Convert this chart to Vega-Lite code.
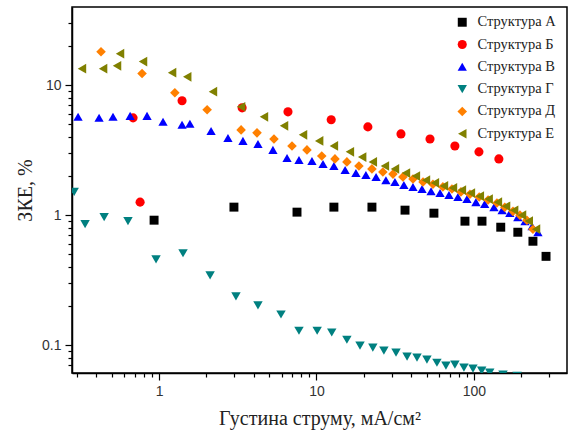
{
  "$schema": "https://vega.github.io/schema/vega-lite/v6.json",
  "width": 495,
  "height": 366,
  "autosize": "none",
  "padding": {"left": 72, "top": 7, "right": 5, "bottom": 57},
  "background": "white",
  "config": {
    "view": {"stroke": "#000", "strokeWidth": 1.5},
    "axis": {"domainColor": "#000", "domainWidth": 1.5, "tickColor": "#000", "tickWidth": 1.2, "labelFont": "Liberation Sans", "labelFontSize": 14, "labelColor": "#333", "titleFont": "Liberation Serif", "titleFontSize": 20, "titleFontWeight": "normal", "titleColor": "#222", "grid": false, "labelOverlap": false, "labelFlush": false}
  },
  "datasets": {
    "pts": [
      {"s": "Структура А", "x": 0.93, "y": 0.915},
      {"s": "Структура А", "x": 2.99, "y": 1.153},
      {"s": "Структура А", "x": 7.52, "y": 1.055},
      {"s": "Структура А", "x": 12.9, "y": 1.153},
      {"s": "Структура А", "x": 22.5, "y": 1.153},
      {"s": "Структура А", "x": 36.5, "y": 1.093},
      {"s": "Структура А", "x": 55.7, "y": 1.036},
      {"s": "Структура А", "x": 87.7, "y": 0.899},
      {"s": "Структура А", "x": 112.5, "y": 0.899},
      {"s": "Структура А", "x": 148, "y": 0.808},
      {"s": "Структура А", "x": 190, "y": 0.739},
      {"s": "Структура А", "x": 237, "y": 0.63},
      {"s": "Структура А", "x": 287, "y": 0.482},
      {"s": "Структура Б", "x": 0.758, "y": 1.26},
      {"s": "Структура Б", "x": 0.684, "y": 5.61},
      {"s": "Структура Б", "x": 1.40, "y": 7.59},
      {"s": "Структура Б", "x": 3.37, "y": 6.70},
      {"s": "Структура Б", "x": 6.59, "y": 6.24},
      {"s": "Структура Б", "x": 12.4, "y": 5.42},
      {"s": "Структура Б", "x": 21.2, "y": 4.78},
      {"s": "Структура Б", "x": 34.4, "y": 4.22},
      {"s": "Структура Б", "x": 52.6, "y": 3.86},
      {"s": "Структура Б", "x": 75.7, "y": 3.41},
      {"s": "Структура Б", "x": 107.6, "y": 3.07},
      {"s": "Структура Б", "x": 144, "y": 2.71},
      {"s": "Структура В", "x": 0.306, "y": 5.71},
      {"s": "Структура В", "x": 0.416, "y": 5.61},
      {"s": "Структура В", "x": 0.510, "y": 5.71},
      {"s": "Структура В", "x": 0.655, "y": 5.81},
      {"s": "Структура В", "x": 0.839, "y": 5.81},
      {"s": "Структура В", "x": 1.06, "y": 5.23},
      {"s": "Структура В", "x": 1.40, "y": 4.96},
      {"s": "Структура В", "x": 1.57, "y": 5.05},
      {"s": "Структура В", "x": 2.14, "y": 4.45},
      {"s": "Структура В", "x": 2.74, "y": 3.93},
      {"s": "Структура В", "x": 3.41, "y": 3.73},
      {"s": "Структура В", "x": 4.25, "y": 3.53},
      {"s": "Структура В", "x": 5.29, "y": 3.18},
      {"s": "Структура В", "x": 6.50, "y": 2.75},
      {"s": "Структура В", "x": 7.74, "y": 2.66},
      {"s": "Структура В", "x": 9.36, "y": 2.61},
      {"s": "Структура В", "x": 11.0, "y": 2.48},
      {"s": "Структура В", "x": 12.9, "y": 2.39},
      {"s": "Структура В", "x": 15.2, "y": 2.23},
      {"s": "Структура В", "x": 17.8, "y": 2.11},
      {"s": "Структура В", "x": 20.6, "y": 2.04},
      {"s": "Структура В", "x": 23.9, "y": 1.97},
      {"s": "Структура В", "x": 27.6, "y": 1.86},
      {"s": "Структура В", "x": 31.5, "y": 1.80},
      {"s": "Структура В", "x": 35.9, "y": 1.71},
      {"s": "Структура В", "x": 41.0, "y": 1.65},
      {"s": "Структура В", "x": 46.8, "y": 1.59},
      {"s": "Структура В", "x": 53.4, "y": 1.53},
      {"s": "Структура В", "x": 60.9, "y": 1.48},
      {"s": "Структура В", "x": 69.4, "y": 1.43},
      {"s": "Структура В", "x": 79.1, "y": 1.38},
      {"s": "Структура В", "x": 90.3, "y": 1.33},
      {"s": "Структура В", "x": 103, "y": 1.26},
      {"s": "Структура В", "x": 117, "y": 1.22},
      {"s": "Структура В", "x": 134, "y": 1.15},
      {"s": "Структура В", "x": 151, "y": 1.09},
      {"s": "Структура В", "x": 169, "y": 1.04},
      {"s": "Структура В", "x": 190, "y": 0.966},
      {"s": "Структура В", "x": 211, "y": 0.899},
      {"s": "Структура В", "x": 234, "y": 0.823},
      {"s": "Структура В", "x": 255, "y": 0.739},
      {"s": "Структура Г", "x": 0.289, "y": 1.51},
      {"s": "Структура Г", "x": 0.339, "y": 0.852},
      {"s": "Структура Г", "x": 0.448, "y": 0.965},
      {"s": "Структура Г", "x": 0.635, "y": 0.899},
      {"s": "Структура Г", "x": 0.957, "y": 0.457},
      {"s": "Структура Г", "x": 1.42, "y": 0.509},
      {"s": "Структура Г", "x": 2.11, "y": 0.344},
      {"s": "Структура Г", "x": 3.08, "y": 0.237},
      {"s": "Структура Г", "x": 4.25, "y": 0.202},
      {"s": "Структура Г", "x": 5.95, "y": 0.172},
      {"s": "Структура Г", "x": 7.74, "y": 0.129},
      {"s": "Структура Г", "x": 10.1, "y": 0.129},
      {"s": "Структура Г", "x": 12.5, "y": 0.125},
      {"s": "Структура Г", "x": 15.6, "y": 0.110},
      {"s": "Структура Г", "x": 18.9, "y": 0.099},
      {"s": "Структура Г", "x": 22.8, "y": 0.0957},
      {"s": "Структура Г", "x": 26.8, "y": 0.0907},
      {"s": "Структура Г", "x": 32.0, "y": 0.0875},
      {"s": "Структура Г", "x": 37.6, "y": 0.0815},
      {"s": "Структура Г", "x": 43.5, "y": 0.080},
      {"s": "Структура Г", "x": 50.3, "y": 0.0772},
      {"s": "Структура Г", "x": 58.2, "y": 0.0732},
      {"s": "Структура Г", "x": 66.4, "y": 0.0695},
      {"s": "Структура Г", "x": 75.7, "y": 0.0707},
      {"s": "Структура Г", "x": 86.4, "y": 0.067},
      {"s": "Структура Г", "x": 98.6, "y": 0.0659},
      {"s": "Структура Г", "x": 112, "y": 0.0636},
      {"s": "Структура Г", "x": 126, "y": 0.0614},
      {"s": "Структура Г", "x": 153, "y": 0.0592},
      {"s": "Структура Г", "x": 188, "y": 0.058},
      {"s": "Структура Д", "x": 0.428, "y": 18.1},
      {"s": "Структура Д", "x": 0.780, "y": 12.3},
      {"s": "Структура Д", "x": 1.26, "y": 8.75},
      {"s": "Структура Д", "x": 2.02, "y": 6.47},
      {"s": "Структура Д", "x": 3.32, "y": 4.53},
      {"s": "Структура Д", "x": 4.19, "y": 4.30},
      {"s": "Структура Д", "x": 5.37, "y": 3.86},
      {"s": "Структура Д", "x": 6.99, "y": 3.41},
      {"s": "Структура Д", "x": 8.70, "y": 3.18},
      {"s": "Структура Д", "x": 10.8, "y": 2.85},
      {"s": "Структура Д", "x": 13.1, "y": 2.71},
      {"s": "Структура Д", "x": 15.6, "y": 2.57},
      {"s": "Структура Д", "x": 18.6, "y": 2.39},
      {"s": "Структура Д", "x": 22.5, "y": 2.27},
      {"s": "Структура Д", "x": 26.4, "y": 2.15},
      {"s": "Структура Д", "x": 30.6, "y": 2.07},
      {"s": "Структура Д", "x": 35.4, "y": 1.97},
      {"s": "Структура Д", "x": 41.0, "y": 1.90},
      {"s": "Структура Д", "x": 47.5, "y": 1.80},
      {"s": "Структура Д", "x": 54.9, "y": 1.73},
      {"s": "Структура Д", "x": 63.5, "y": 1.65},
      {"s": "Структура Д", "x": 72.5, "y": 1.59},
      {"s": "Структура Д", "x": 82.7, "y": 1.51},
      {"s": "Структура Д", "x": 94.3, "y": 1.45},
      {"s": "Структура Д", "x": 108, "y": 1.38},
      {"s": "Структура Д", "x": 123, "y": 1.31},
      {"s": "Структура Д", "x": 140, "y": 1.24},
      {"s": "Структура Д", "x": 157, "y": 1.15},
      {"s": "Структура Д", "x": 177, "y": 1.07},
      {"s": "Структура Д", "x": 196, "y": 1.0},
      {"s": "Структура Д", "x": 217, "y": 0.915},
      {"s": "Структура Д", "x": 237, "y": 0.78},
      {"s": "Структура Е", "x": 0.324, "y": 13.4},
      {"s": "Структура Е", "x": 0.441, "y": 13.4},
      {"s": "Структура Е", "x": 0.541, "y": 14.1},
      {"s": "Структура Е", "x": 0.565, "y": 17.5},
      {"s": "Структура Е", "x": 0.791, "y": 15.2},
      {"s": "Структура Е", "x": 1.21, "y": 12.5},
      {"s": "Структура Е", "x": 1.51, "y": 11.6},
      {"s": "Структура Е", "x": 2.20, "y": 8.91},
      {"s": "Структура Е", "x": 3.32, "y": 6.82},
      {"s": "Структура Е", "x": 4.64, "y": 5.71},
      {"s": "Структура Е", "x": 6.22, "y": 4.87},
      {"s": "Структура Е", "x": 8.21, "y": 4.15},
      {"s": "Структура Е", "x": 10.4, "y": 3.73},
      {"s": "Структура Е", "x": 12.9, "y": 3.41},
      {"s": "Структура Е", "x": 16.3, "y": 3.07},
      {"s": "Структура Е", "x": 19.5, "y": 2.80},
      {"s": "Структура Е", "x": 22.8, "y": 2.57},
      {"s": "Структура Е", "x": 27.2, "y": 2.39},
      {"s": "Структура Е", "x": 31.5, "y": 2.27},
      {"s": "Структура Е", "x": 37.0, "y": 2.11},
      {"s": "Структура Е", "x": 42.8, "y": 2.00},
      {"s": "Структура Е", "x": 49.6, "y": 1.86},
      {"s": "Структура Е", "x": 56.5, "y": 1.77},
      {"s": "Структура Е", "x": 64.5, "y": 1.68},
      {"s": "Структура Е", "x": 73.6, "y": 1.62},
      {"s": "Структура Е", "x": 83.9, "y": 1.56},
      {"s": "Структура Е", "x": 95.7, "y": 1.48},
      {"s": "Структура Е", "x": 109, "y": 1.40},
      {"s": "Структура Е", "x": 124, "y": 1.33},
      {"s": "Структура Е", "x": 142, "y": 1.26},
      {"s": "Структура Е", "x": 160, "y": 1.17},
      {"s": "Структура Е", "x": 180, "y": 1.09},
      {"s": "Структура Е", "x": 202, "y": 1.0},
      {"s": "Структура Е", "x": 223, "y": 0.90},
      {"s": "Структура Е", "x": 248, "y": 0.78}
    ]
  },
  "data": {"name": "pts"},
  "mark": {"type": "point", "filled": true, "opacity": 1, "clip": true},
  "encoding": {
    "x": {
      "field": "x", "type": "quantitative",
      "scale": {"type": "log", "domain": [0.28, 390], "nice": false},
      "axis": {
        "title": "Густина струму, мА/см²",
        "values": [0.3, 0.4, 0.5, 0.6, 0.7, 0.8, 0.9, 1, 2, 3, 4, 5, 6, 7, 8, 9, 10, 20, 30, 40, 50, 60, 70, 80, 90, 100, 200, 300],
        "labelExpr": "datum.value == 1 ? '1' : datum.value == 10 ? '10' : datum.value == 100 ? '100' : ''",
        "tickSize": {"condition": {"test": "datum.value == 1 || datum.value == 10 || datum.value == 100", "value": 7}, "value": 4},
        "labelPadding": 4,
        "titlePadding": 10
      }
    },
    "y": {
      "field": "y", "type": "quantitative",
      "scale": {"type": "log", "domain": [0.061, 40], "nice": false},
      "axis": {
        "title": "ЗКЕ, %",
        "values": [0.07, 0.08, 0.09, 0.1, 0.2, 0.3, 0.4, 0.5, 0.6, 0.7, 0.8, 0.9, 1, 2, 3, 4, 5, 6, 7, 8, 9, 10, 20, 30],
        "labelExpr": "datum.value == 0.1 ? '0.1' : datum.value == 1 ? '1' : datum.value == 10 ? '10' : ''",
        "tickSize": {"condition": {"test": "datum.value == 0.1 || datum.value == 1 || datum.value == 10", "value": 7}, "value": 4},
        "labelPadding": 4,
        "titlePadding": 6
      }
    },
    "color": {
      "field": "s", "type": "nominal",
      "scale": {"domain": ["Структура А", "Структура Б", "Структура В", "Структура Г", "Структура Д", "Структура Е"], "range": ["#000000", "#ff0000", "#0000ff", "#008080", "#ff8000", "#808000"]},
      "legend": {"title": null, "orient": "none", "legendX": 383, "legendY": 8, "labelFont": "Liberation Serif", "labelFontSize": 14.5, "labelColor": "#222", "symbolOpacity": 1, "symbolSize": 95, "rowPadding": 7.3, "labelOffset": 8, "padding": 0}
    },
    "shape": {
      "field": "s", "type": "nominal",
      "scale": {"domain": ["Структура А", "Структура Б", "Структура В", "Структура Г", "Структура Д", "Структура Е"], "range": ["square", "circle", "triangle-up", "triangle-down", "diamond", "triangle-left"]},
      "legend": null
    },
    "size": {
      "field": "s", "type": "nominal",
      "scale": {"domain": ["Структура А", "Структура Б", "Структура В", "Структура Г", "Структура Д", "Структура Е"], "range": [80, 95, 140, 140, 115, 140]},
      "legend": null
    }
  }
}
